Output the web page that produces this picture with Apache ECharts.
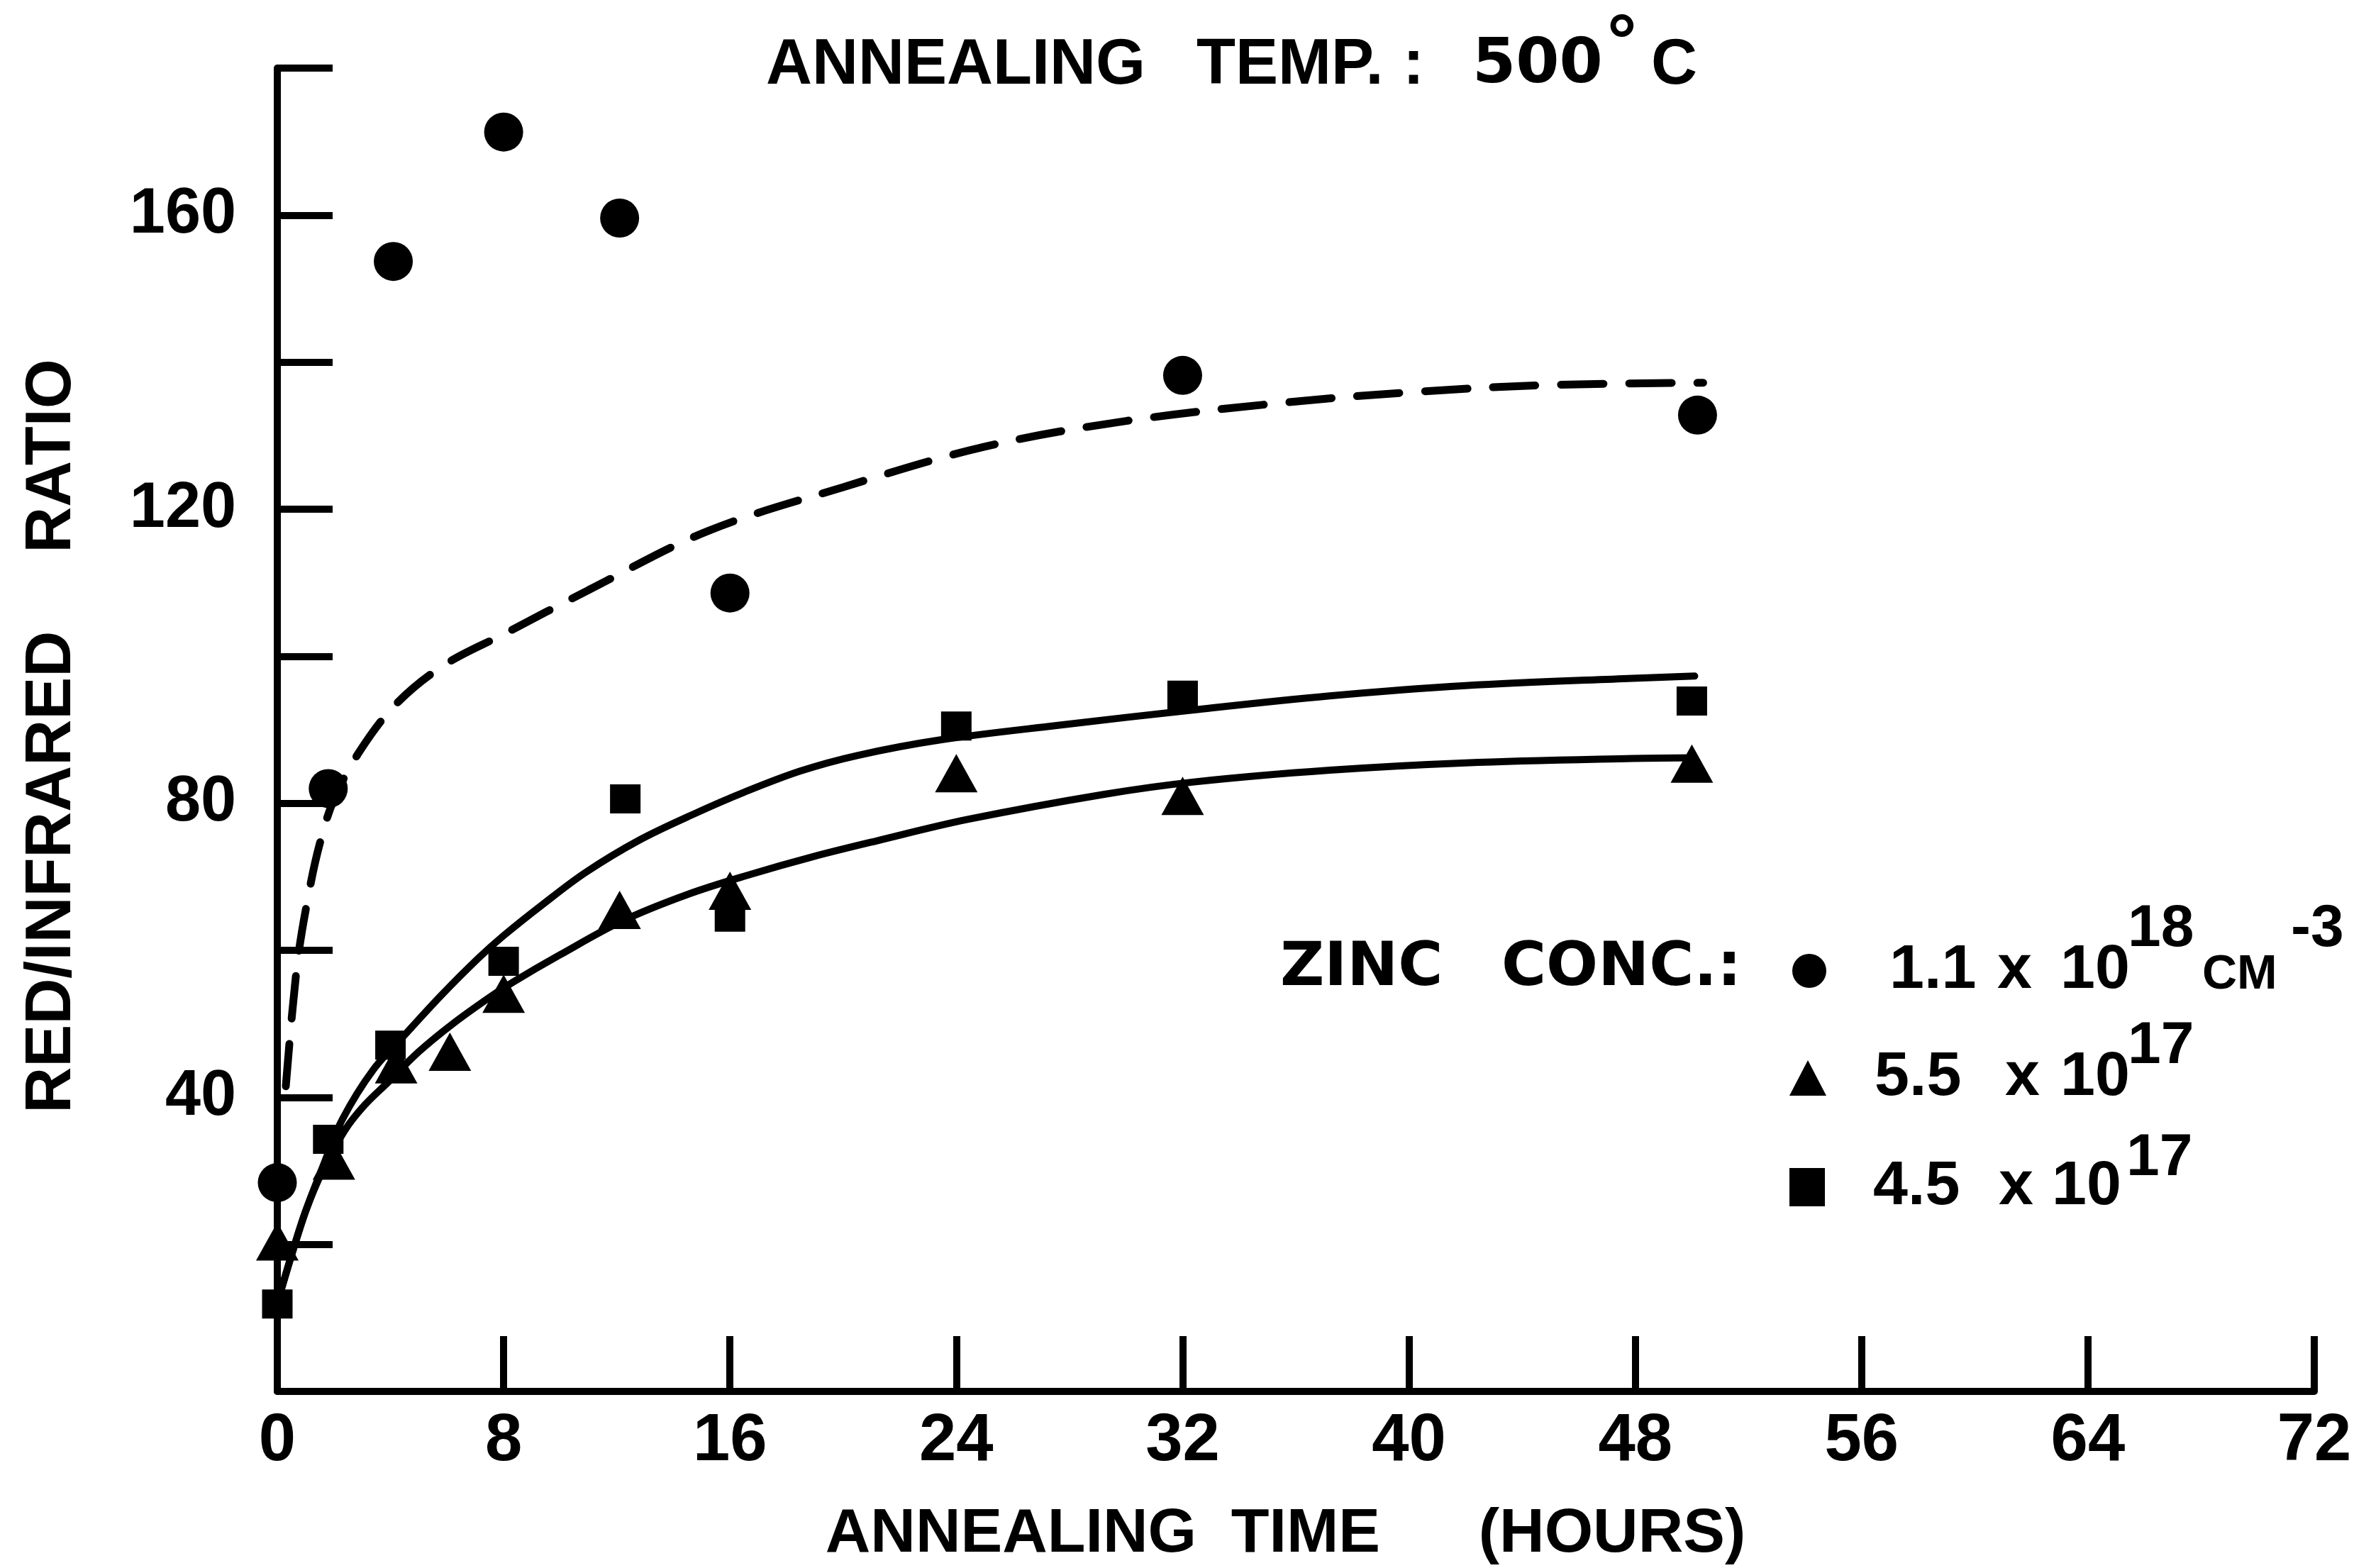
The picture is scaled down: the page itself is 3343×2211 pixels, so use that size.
<!DOCTYPE html>
<html>
<head>
<meta charset="utf-8">
<title>Red/Infrared ratio vs annealing time</title>
<script src="https://cdn.jsdelivr.net/npm/echarts@6/dist/echarts.min.js"></script>
<style>
  html, body { margin: 0; padding: 0; background: #ffffff; }
  #chart { width: 3343px; height: 2211px; }
</style>
</head>
<body>
<div id="chart"></div>
<script>
// Measured red/infrared ratios, annealing at 500 °C
const circleHours   = [0, 1.8, 4.1, 8, 12.1, 16, 32, 50.2];
const circleRatio   = [28.4, 82, 153.7, 171.3, 159.6, 108.6, 138.2, 132.8];
const triangleHours = [0, 2, 4.2, 6.1, 8, 12.1, 16, 24, 32, 50];
const triangleRatio = [20.4, 31.4, 44.5, 46.2, 54.1, 65.5, 68.1, 84.1, 81, 85.4];
const squareHours   = [0, 1.8, 4, 8, 12.3, 16, 24, 32, 50];
const squareRatio   = [11.9, 34.3, 47.1, 58.5, 80.6, 64.5, 90.5, 94.7, 93.9];

// Hand-drawn trend curves through each set
const dashedHours = [0.3, 0.7, 1.1, 1.5, 2, 2.9, 4.2, 5.9, 8, 11, 15.2, 20, 25, 30, 35.6, 40.4, 45, 50.4];
const dashedRatio = [41.5, 58, 67.5, 74.5, 80.5, 87, 93.5, 98.8, 103, 109, 117, 123, 128.5, 132, 134.5, 136, 136.9, 137.2];
const upperHours  = [0, 0.5, 1, 1.6, 2.3, 3.4, 4.6, 5.8, 7.1, 8, 9.4, 10.9, 12.8, 14.7, 16.5, 18.5, 20.5, 23.4, 27.6, 32.4, 37.2, 42, 47.9, 50.1];
const upperRatio  = [12, 18.5, 24.5, 30.5, 37, 43.8, 48.9, 53.9, 58.9, 62, 66.3, 70.6, 75, 78.5, 81.5, 84.4, 86.5, 88.6, 90.6, 92.7, 94.6, 96, 97, 97.3];
const lowerHours  = [0, 0.5, 1, 1.6, 2.4, 3.1, 3.9, 5, 6.2, 7.5, 8.3, 10, 12.2, 14.5, 16.7, 18.9, 21.2, 24.4, 29.2, 32.4, 37.2, 42, 47.9, 50.1];
const lowerRatio  = [12, 18.5, 24.5, 30, 35.6, 39, 42, 46.2, 50, 53.6, 55.6, 59.4, 64, 67.6, 70.3, 72.7, 74.9, 77.8, 81.2, 82.9, 84.5, 85.5, 86.1, 86.2];

// Axis ranges and labelled ticks
const xMax = 72, xStep = 8;
const yMax = 180, yStep = 20;
const yLabelValues = [40, 80, 120, 160];

const seriesNames = ['Zn 1.1e18', 'Zn 5.5e17', 'Zn 4.5e17'];

const FONT = '"Liberation Sans", Arial, sans-serif';
const WIDE = '"DejaVu Sans", "Liberation Sans", sans-serif';
const INK = '#000000';
const pairs = (xs, ys) => xs.map((x, i) => [x, ys[i]]);

const base = { fontFamily: FONT, fontWeight: 'bold', color: INK, align: 'left', verticalAlign: 'middle' };
const tok = (extra) => Object.assign({}, base, extra);

const chart = echarts.init(document.getElementById('chart'), null, { renderer: 'canvas' });

function legendBlock(name, left, top, w, h, formatter, rich) {
  return {
    data: [name], left: left, top: top, padding: 0,
    orient: 'vertical', itemWidth: w, itemHeight: h,
    selectedMode: false,
    textStyle: { fontFamily: FONT, fontWeight: 'bold', fontSize: 88, color: INK, rich: rich },
    formatter: () => formatter
  };
}

const option = {
  animation: false,
  backgroundColor: '#ffffff',
  grid: { left: 391, right: 80, top: 96, bottom: 249, containLabel: false, outerBoundsMode: 'none' },
  xAxis: {
    type: 'value', min: 0, max: xMax, interval: xStep,
    axisLine: { show: true, onZero: false, lineStyle: { color: INK, width: 10 } },
    axisTick: { show: true, inside: true, length: 78, lineStyle: { color: INK, width: 10 } },
    splitLine: { show: false },
    axisLabel: { margin: 24, fontFamily: FONT, fontWeight: 'bold', fontSize: 94, color: INK },
    name: '{a|ANNEALING}{b|TIME}{c|(HOURS)}',
    nameLocation: 'middle', nameGap: 158, nameMoveOverlap: false,
    nameTextStyle: {
      fontFamily: FONT, fontWeight: 'bold', fontSize: 88, color: INK, padding: [0, 29, 0, 0],
      rich: {
        a: tok({ fontSize: 88, width: 572 }),
        b: tok({ fontSize: 88, width: 349 }),
        c: tok({ fontSize: 88 })
      }
    }
  },
  yAxis: {
    type: 'value', min: 0, max: yMax, interval: yStep,
    axisLine: { show: true, onZero: false, lineStyle: { color: INK, width: 10 } },
    axisTick: { show: true, inside: true, length: 78, lineStyle: { color: INK, width: 10 } },
    splitLine: { show: false },
    axisLabel: {
      margin: 58, fontFamily: FONT, fontWeight: 'bold', fontSize: 90, color: INK,
      formatter: (v) => (yLabelValues.indexOf(v) >= 0 ? String(v) : '')
    },
    name: '{a|RED/INFRARED}{b|RATIO}',
    nameLocation: 'middle', nameRotate: 90, nameGap: 272, nameMoveOverlap: false,
    nameTextStyle: {
      fontFamily: FONT, fontWeight: 'bold', fontSize: 90, color: INK, padding: [0, 18, 0, 0],
      rich: {
        a: tok({ fontSize: 90, width: 790 }),
        b: tok({ fontSize: 90 })
      }
    }
  },
  legend: [
    legendBlock(seriesNames[0], 2527, 1269, 48, 48,
      '{n0|1.1}{x|x}{n1|10}{s1|18}{c|CM}{s2|-3}',
      {
        n0: tok({ fontSize: 88, width: 152, padding: [0, 0, 0, 84] }),
        x:  tok({ fontSize: 88, width: 89 }),
        n1: tok({ fontSize: 88, width: 95 }),
        s1: tok({ fontSize: 84, width: 105, padding: [0, 0, 116, 0] }),
        c:  tok({ fontSize: 68, width: 125, padding: [12, 0, 0, 0] }),
        s2: tok({ fontSize: 84, padding: [0, 0, 116, 0] })
      }),
    legendBlock(seriesNames[1], 2523, 1434, 52, 50,
      '{n0|5.5}{x|x}{n1|10}{s|17}',
      {
        n0: tok({ fontSize: 88, width: 184, padding: [0, 0, 0, 63] }),
        x:  tok({ fontSize: 88, width: 78 }),
        n1: tok({ fontSize: 88, width: 95 }),
        s:  tok({ fontSize: 84, padding: [0, 0, 88, 0] })
      }),
    legendBlock(seriesNames[2], 2523, 1592, 50, 54,
      '{n0|4.5}{x|x}{n1|10}{s|17}',
      {
        n0: tok({ fontSize: 88, width: 177, padding: [0, 0, 0, 63] }),
        x:  tok({ fontSize: 88, width: 75 }),
        n1: tok({ fontSize: 88, width: 105 }),
        s:  tok({ fontSize: 84, padding: [0, 0, 80, 0] })
      })
  ],
  graphic: [
    {
      type: 'text', x: 1080, y: 93, silent: true,
      style: {
        text: '{a|ANNEALING}{b|TEMP.}{c|:}{d|500}{e|°}{f|C}',
        align: 'left', verticalAlign: 'middle', fill: INK,
        rich: {
          a: tok({ fontSize: 90, width: 607 }),
          b: tok({ fontSize: 90, width: 291 }),
          c: tok({ fontSize: 90, width: 98 }),
          d: tok({ fontSize: 88, width: 190, fontFamily: WIDE }),
          e: tok({ fontSize: 104, width: 62, padding: [0, 0, 60, 0] }),
          f: tok({ fontSize: 90 })
        }
      }
    },
    {
      type: 'text', x: 1805, y: 1367, silent: true,
      style: {
        text: '{a|ZINC}{b|CONC.:}',
        align: 'left', verticalAlign: 'middle', fill: INK,
        rich: {
          a: tok({ fontSize: 86, width: 312, fontFamily: WIDE }),
          b: tok({ fontSize: 86, fontFamily: WIDE })
        }
      }
    }
  ],
  series: [
    {
      name: 'fit 1.1e18', type: 'line', data: pairs(dashedHours, dashedRatio),
      smooth: 0.35, showSymbol: false, symbol: 'none', silent: true, z: 2,
      lineStyle: { color: INK, width: 11, type: [60, 36], cap: 'round' }
    },
    {
      name: 'fit 4.5e17', type: 'line', data: pairs(upperHours, upperRatio),
      smooth: 0.35, showSymbol: false, symbol: 'none', silent: true, z: 2,
      lineStyle: { color: INK, width: 10, type: 'solid', cap: 'round' }
    },
    {
      name: 'fit 5.5e17', type: 'line', data: pairs(lowerHours, lowerRatio),
      smooth: 0.35, showSymbol: false, symbol: 'none', silent: true, z: 2,
      lineStyle: { color: INK, width: 10, type: 'solid', cap: 'round' }
    },
    {
      name: seriesNames[0], type: 'scatter', data: pairs(circleHours, circleRatio),
      symbol: 'circle', symbolSize: 55, z: 3, itemStyle: { color: INK, opacity: 1 }
    },
    {
      name: seriesNames[1], type: 'scatter', data: pairs(triangleHours, triangleRatio),
      symbol: 'triangle', symbolSize: [60, 54], z: 3, itemStyle: { color: INK, opacity: 1 }
    },
    {
      name: seriesNames[2], type: 'scatter', data: pairs(squareHours, squareRatio),
      symbol: 'rect', symbolSize: [43, 41], z: 3, itemStyle: { color: INK, opacity: 1 }
    }
  ]
};

chart.setOption(option);
</script>
</body>
</html>
